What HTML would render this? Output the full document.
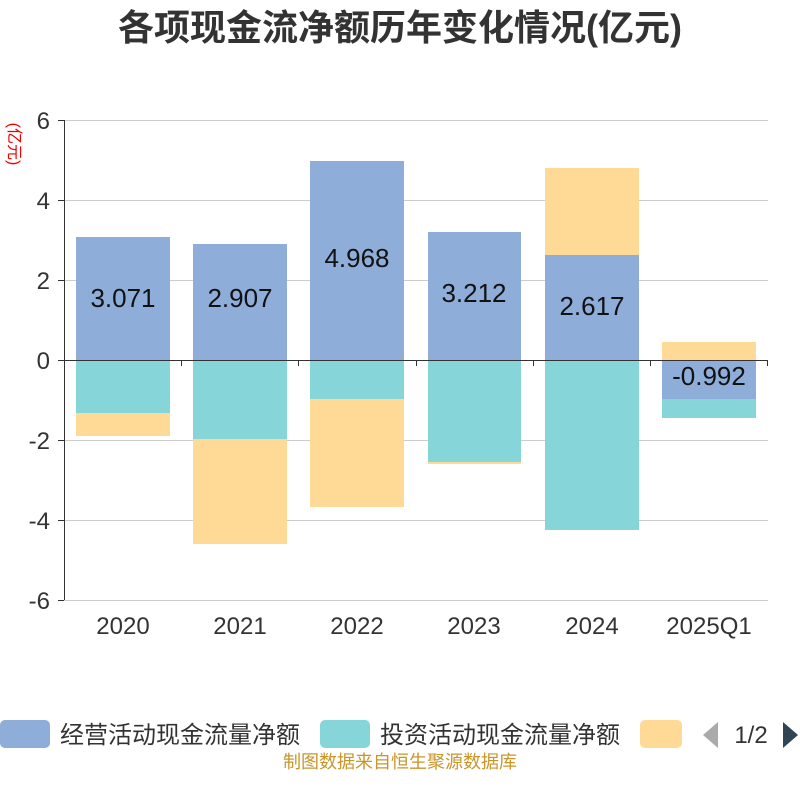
<!DOCTYPE html>
<html><head><meta charset="utf-8"><style>
body{margin:0;background:#fff;width:800px;height:800px;overflow:hidden;font-family:"Liberation Sans","Noto Sans CJK SC",sans-serif;}
</style></head><body>
<svg width="800" height="800" xmlns="http://www.w3.org/2000/svg" font-family="Liberation Sans, Noto Sans CJK SC, sans-serif">
<text x="400" y="40" text-anchor="middle" font-size="36" font-weight="bold" fill="#333">各项现金流净额历年变化情况(亿元)</text>
<text x="6" y="144" font-size="16" fill="#e00" transform="rotate(90 6 144)" text-anchor="middle" dy="-3">(亿元)</text>
<g stroke="#ccc" stroke-width="1">
<line x1="64" y1="120.5" x2="768" y2="120.5"/><line x1="64" y1="200.5" x2="768" y2="200.5"/><line x1="64" y1="280.5" x2="768" y2="280.5"/>
<line x1="64" y1="440.5" x2="768" y2="440.5"/><line x1="64" y1="520.5" x2="768" y2="520.5"/><line x1="64" y1="600.5" x2="768" y2="600.5"/>
</g>
<g>
<rect x="76" y="237" width="94" height="123" fill="#8eadd9"/><rect x="76" y="360" width="94" height="53" fill="#86d5d8"/><rect x="76" y="413" width="94" height="23" fill="#ffd996"/>
<rect x="193" y="244" width="94" height="116" fill="#8eadd9"/><rect x="193" y="360" width="94" height="79" fill="#86d5d8"/><rect x="193" y="439" width="94" height="105" fill="#ffd996"/>
<rect x="310" y="161" width="94" height="199" fill="#8eadd9"/><rect x="310" y="360" width="94" height="39" fill="#86d5d8"/><rect x="310" y="399" width="94" height="108" fill="#ffd996"/>
<rect x="428" y="232" width="93" height="128" fill="#8eadd9"/><rect x="428" y="360" width="93" height="102" fill="#86d5d8"/><rect x="428" y="462" width="93" height="2" fill="#ffd996"/>
<rect x="545" y="168" width="94" height="87" fill="#ffd996"/><rect x="545" y="255" width="94" height="105" fill="#8eadd9"/><rect x="545" y="360" width="94" height="170" fill="#86d5d8"/>
<rect x="662" y="342" width="94" height="18" fill="#ffd996"/><rect x="662" y="360" width="94" height="39" fill="#8eadd9"/><rect x="662" y="399" width="94" height="19" fill="#86d5d8"/>
</g>
<g font-size="26" fill="#111" text-anchor="middle">
<text x="123" y="307">3.071</text><text x="240" y="307">2.907</text><text x="357" y="267">4.968</text>
<text x="474" y="302">3.212</text><text x="592" y="315">2.617</text><text x="709" y="385">-0.992</text>
</g>
<g stroke="#333" stroke-width="1">
<line x1="64.5" y1="120" x2="64.5" y2="600"/>
<line x1="64" y1="360.5" x2="768" y2="360.5"/>
<line x1="58" y1="120.5" x2="64" y2="120.5"/><line x1="58" y1="200.5" x2="64" y2="200.5"/><line x1="58" y1="280.5" x2="64" y2="280.5"/><line x1="58" y1="360.5" x2="64" y2="360.5"/><line x1="58" y1="440.5" x2="64" y2="440.5"/><line x1="58" y1="520.5" x2="64" y2="520.5"/><line x1="58" y1="600.5" x2="64" y2="600.5"/>
<line x1="181.5" y1="360" x2="181.5" y2="366"/><line x1="298.5" y1="360" x2="298.5" y2="366"/><line x1="416.5" y1="360" x2="416.5" y2="366"/><line x1="533.5" y1="360" x2="533.5" y2="366"/><line x1="650.5" y1="360" x2="650.5" y2="366"/><line x1="767.5" y1="360" x2="767.5" y2="366"/>
</g>
<g font-size="24" fill="#333" text-anchor="end">
<text x="50" y="129">6</text><text x="50" y="209">4</text><text x="50" y="289">2</text><text x="50" y="369">0</text><text x="50" y="449">-2</text><text x="50" y="529">-4</text><text x="50" y="609">-6</text>
</g>
<g font-size="24" fill="#333" text-anchor="middle">
<text x="123" y="634">2020</text><text x="240" y="634">2021</text><text x="357" y="634">2022</text><text x="474" y="634">2023</text><text x="592" y="634">2024</text><text x="709" y="634">2025Q1</text>
</g>
<rect x="0" y="720" width="50" height="28" rx="5" fill="#8eadd9"/>
<text x="60" y="743" font-size="24" fill="#333">经营活动现金流量净额</text>
<rect x="320" y="720" width="50" height="28" rx="5" fill="#86d5d8"/>
<text x="380" y="743" font-size="24" fill="#333">投资活动现金流量净额</text>
<rect x="640" y="720" width="42" height="28" rx="5" fill="#ffd996"/>
<polygon points="718,722 718,748 703,735" fill="#aaa"/>
<text x="751" y="743" font-size="24" fill="#333" text-anchor="middle">1/2</text>
<polygon points="783,722 783,748 798,735" fill="#2f4554"/>
<text x="400" y="768" font-size="18" fill="#c8962a" text-anchor="middle">制图数据来自恒生聚源数据库</text>
</svg>
</body></html>
